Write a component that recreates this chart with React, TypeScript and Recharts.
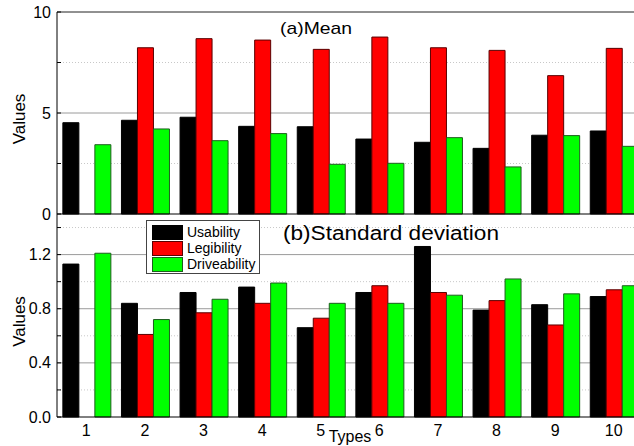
import { Bar, BarChart, CartesianGrid, Customized, Legend, ReferenceLine, XAxis, YAxis } from "recharts";

const types = ["1", "2", "3", "4", "5", "6", "7", "8", "9", "10"];

const meanUsability = [4.52, 4.64, 4.79, 4.34, 4.32, 3.71, 3.55, 3.25, 3.9, 4.11];
const meanLegibility = [null, 8.23, 8.68, 8.61, 8.15, 8.76, 8.23, 8.1, 6.85, 8.2];
const meanDriveability = [3.43, 4.21, 3.63, 3.98, 2.46, 2.51, 3.78, 2.33, 3.88, 3.35];

const sdUsability = [1.13, 0.84, 0.92, 0.96, 0.66, 0.92, 1.26, 0.79, 0.83, 0.89];
const sdLegibility = [null, 0.61, 0.77, 0.84, 0.73, 0.97, 0.92, 0.86, 0.68, 0.94];
const sdDriveability = [1.21, 0.72, 0.87, 0.99, 0.84, 0.84, 0.9, 1.02, 0.91, 0.97];

const meanTicks = [0, 2.5, 5, 7.5, 10];
const meanLabels = [0, 5, 10];
const meanMajorGrid = [5];
const meanMinorGrid = [2.5, 7.5];

const sdTicks = [0, 0.2, 0.4, 0.6, 0.8, 1.0, 1.2, 1.4];
const sdLabels = [0, 0.4, 0.8, 1.2];
const sdMajorGrid = [0.4, 0.8, 1.2];
const sdMinorGrid = [0.2, 0.6, 1.0, 1.4];

const meanData = types.map((type, i) => ({
  type,
  usability: meanUsability[i],
  legibility: meanLegibility[i],
  driveability: meanDriveability[i],
}));
const sdData = types.map((type, i) => ({
  type,
  usability: sdUsability[i],
  legibility: sdLegibility[i],
  driveability: sdDriveability[i],
}));

const series = [
  { key: "usability", name: "Usability", fill: "#000000", stroke: "#000000" },
  { key: "legibility", name: "Legibility", fill: "#ff0000", stroke: "#5a0000" },
  { key: "driveability", name: "Driveability", fill: "#00ff00", stroke: "#1d5e1d" },
];

const font = "'Liberation Sans', Arial, sans-serif";
const W = 650;

function makeYTick(labels: number[], digits: number) {
  return (props: any) => {
    const { x, y, payload } = props;
    const v = payload.value;
    return (
      <g>
        <line x1={x + 6} x2={x + 10} y1={y} y2={y} stroke="#000" />
        {labels.includes(v) && (
          <text x={x} y={y} dy="0.35em" textAnchor="end" fontSize={16} fill="#000" fontFamily={font}>
            {v.toFixed(digits)}
          </text>
        )}
      </g>
    );
  };
}

function valuesLabel(props: any) {
  const { x, y, height } = props.viewBox;
  const cx = x + 19;
  const cy = y + height / 2 + 6;
  return (
    <text x={cx} y={cy} transform={`rotate(-90 ${cx} ${cy})`} textAnchor="middle" dominantBaseline="central" fontSize={17} fill="#000" fontFamily={font}>
      Values
    </text>
  );
}

function LegendBox(props: any) {
  const payload = props.payload || [];
  return (
    <div style={{ border: "1px solid #444", background: "#fff", padding: "3px 4px 1px 5px", fontFamily: font, fontSize: 14, width: "fit-content" }}>
      {series.map((s) => (
        <div key={s.key} style={{ display: "flex", alignItems: "center", height: 16 }}>
          <div style={{ width: 31, height: 15, background: s.fill, border: `1px solid ${s.stroke}`, boxSizing: "border-box", marginRight: 4 }} />
          <span style={{ lineHeight: "16px" }}>{payload.find((p: any) => p.dataKey === s.key)?.value ?? s.name}</span>
        </div>
      ))}
    </div>
  );
}

const TitleA = () => (
  <text x={280} y={34} fontSize={17} fill="#000" fontFamily={font} textLength={72} lengthAdjust="spacingAndGlyphs">
    (a)Mean
  </text>
);
const TitleB = () => (
  <text x={283} y={26} fontSize={20} fill="#000" fontFamily={font} textLength={216} lengthAdjust="spacingAndGlyphs">
    (b)Standard deviation
  </text>
);

export default function App() {
  return (
    <div style={{ position: "absolute", left: 0, top: 0, width: 634, height: 446, overflow: "hidden", background: "#fff", fontFamily: font }}>
      <div style={{ position: "absolute", left: 0, top: 0 }}>
        <BarChart width={W} height={230} data={meanData} margin={{ top: 12, right: W - 643, left: 0, bottom: 0 }} barCategoryGap="10%" barGap={0}>
          <CartesianGrid vertical={false} horizontalValues={meanMinorGrid} stroke="#c8c8c8" strokeDasharray="1 2" />
          <CartesianGrid vertical={false} horizontalValues={meanMajorGrid} stroke="#9a9a9a" />
          <XAxis dataKey="type" tick={false} tickLine={false} height={16} axisLine={{ stroke: "#000" }} />
          <YAxis width={57} domain={[0, 10]} ticks={meanTicks} interval={0} tickLine={false} tickSize={0} tickMargin={6} axisLine={{ stroke: "#000" }} tick={makeYTick(meanLabels, 0)} label={valuesLabel} />
          <ReferenceLine y={10} stroke="#222" />
          {series.map((s) => (
            <Bar key={s.key} dataKey={s.key} name={s.name} fill={s.fill} stroke={s.stroke} strokeWidth={1} isAnimationActive={false} />
          ))}
          <Customized component={TitleA} />
        </BarChart>
      </div>
      <div style={{ position: "absolute", left: 0, top: 214 }}>
        <BarChart width={W} height={232} data={sdData} margin={{ top: 0, right: W - 643, left: 0, bottom: 0 }} barCategoryGap="10%" barGap={0}>
          <CartesianGrid vertical={false} horizontalValues={sdMinorGrid} stroke="#c8c8c8" strokeDasharray="1 2" />
          <CartesianGrid vertical={false} horizontalValues={sdMajorGrid} stroke="#9a9a9a" />
          <XAxis
            dataKey="type"
            interval={0}
            tickLine={false}
            tickSize={0}
            tickMargin={8}
            height={29}
            axisLine={{ stroke: "#000" }}
            tick={{ fontSize: 16, fill: "#000", fontFamily: font }}
            label={{ value: "Types", position: "insideBottom", offset: 4, fontSize: 16, fill: "#000", fontFamily: font }}
          />
          <YAxis width={57} domain={[0, 1.5]} ticks={sdTicks} interval={0} tickLine={false} tickSize={0} tickMargin={6} axisLine={{ stroke: "#000" }} tick={makeYTick(sdLabels, 1)} label={valuesLabel} />
          {series.map((s) => (
            <Bar key={s.key} dataKey={s.key} name={s.name} fill={s.fill} stroke={s.stroke} strokeWidth={1} isAnimationActive={false} />
          ))}
          <Legend layout="vertical" align="center" verticalAlign="middle" wrapperStyle={{ left: 146, top: 6, width: "auto" }} content={LegendBox} />
          <Customized component={TitleB} />
        </BarChart>
      </div>
    </div>
  );
}
